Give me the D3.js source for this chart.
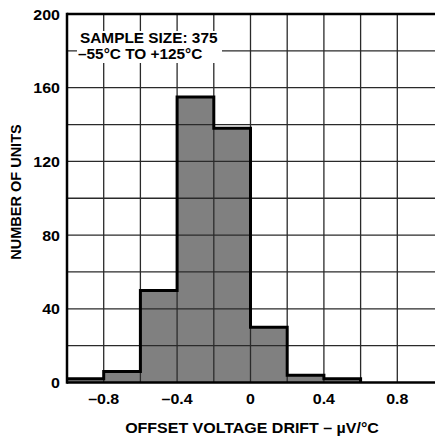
<!DOCTYPE html>
<html><head><meta charset="utf-8">
<script src="https://cdn.jsdelivr.net/npm/d3@7"></script>
<style>
html,body{margin:0;padding:0;background:#fff;}
text{font-family:"Liberation Sans",Arial,Helvetica,sans-serif;font-weight:bold;fill:#000;}
</style></head>
<body>
<script>
const binStarts = [-1.0, -0.8, -0.6, -0.4, -0.2, 0.0, 0.2, 0.4];
const binWidth = 0.2;
const counts = [2, 6, 50, 155, 138, 30, 4, 2];
const xTicks = [-0.8, -0.4, 0, 0.4, 0.8];
const xTickLabels = ["\u20130.8", "\u20130.4", "0", "0.4", "0.8"];
const yTicks = [0, 40, 80, 120, 160, 200];
const xGrid = [-0.8, -0.6, -0.4, -0.2, 0, 0.2, 0.4, 0.6, 0.8];
const yGrid = [20, 40, 60, 80, 100, 120, 140, 160, 180];
const legendLines = ["SAMPLE SIZE: 375", "\u201355\u00B0C TO +125\u00B0C"];
const xTitle = "OFFSET VOLTAGE DRIFT \u2013 \u00B5V/\u00B0C";
const yTitle = "NUMBER OF UNITS";

const W = 435, H = 439;
const SX = 1.08, FS = 14.8;
const svg = d3.select("body").append("svg").attr("width", W).attr("height", H);
const x = d3.scaleLinear().domain([-1.0, 1.0]).range([67, 434]);
const y = d3.scaleLinear().domain([0, 200]).range([382.5, 14]);
const tr = (px, py, s = SX) => `translate(${px},${py}) scale(${s},1)`;

// bars fill
svg.append("g").selectAll("rect").data(binStarts).join("rect")
  .attr("x", d => x(d))
  .attr("width", d => x(d + binWidth) - x(d))
  .attr("y", (d, i) => y(counts[i]))
  .attr("height", (d, i) => y(0) - y(counts[i]))
  .attr("fill", "#808080");

// grid
const g = svg.append("g").attr("stroke", "#2a2a2a").attr("stroke-width", 1.3);
g.selectAll("line.v").data(xGrid).join("line").attr("class", "v")
  .attr("x1", d => x(d)).attr("x2", d => x(d)).attr("y1", y(200)).attr("y2", y(0));
g.selectAll("line.h").data(yGrid).join("line").attr("class", "h")
  .attr("x1", x(-1)).attr("x2", W).attr("y1", d => y(d)).attr("y2", d => y(d));

// legend box
svg.append("rect").attr("x", 77).attr("y", 31).attr("width", 145).attr("height", 32).attr("fill", "#fff");
svg.selectAll("text.leg").data(legendLines).join("text").attr("class", "leg")
  .attr("transform", (d, i) => tr(i === 0 ? 80 : 78, 42.7 + i * 16.6, 1.04))
  .attr("font-size", FS)
  .text(d => d);

// histogram outline
const pts = [];
binStarts.forEach((s, i) => {
  pts.push([x(s), y(counts[i])]);
  pts.push([x(s + binWidth), y(counts[i])]);
});
pts.push([x(binStarts[binStarts.length - 1] + binWidth), y(0)]);
svg.append("path").attr("d", d3.line()(pts)).attr("fill", "none")
  .attr("stroke", "#000").attr("stroke-width", 3).attr("stroke-linejoin", "miter");

// frame
const f = svg.append("g").attr("stroke", "#000").attr("stroke-width", 2.5);
f.append("line").attr("x1", x(-1)).attr("x2", x(-1)).attr("y1", y(200) - 1.25).attr("y2", y(0) + 1.25);
f.append("line").attr("x1", x(-1)).attr("x2", W).attr("y1", y(200)).attr("y2", y(200));
f.append("line").attr("x1", x(-1)).attr("x2", W).attr("y1", y(0)).attr("y2", y(0));

// y tick labels
svg.selectAll("text.yt").data(yTicks).join("text").attr("class", "yt")
  .attr("transform", d => tr(60, y(d) + 5.5))
  .attr("text-anchor", "end").attr("font-size", FS)
  .text(d => d);

// x tick labels
svg.selectAll("text.xt").data(xTicks).join("text").attr("class", "xt")
  .attr("transform", d => tr(x(d), 404))
  .attr("text-anchor", "middle").attr("font-size", FS)
  .text((d, i) => xTickLabels[i]);

// titles
svg.append("text").attr("transform", tr(252, 432.5)).attr("text-anchor", "middle")
  .attr("font-size", FS).text(xTitle);
svg.append("text").attr("transform", "translate(21,192) rotate(-90)")
  .attr("text-anchor", "middle").attr("font-size", 14.5).text(yTitle);
</script>
</body></html>
